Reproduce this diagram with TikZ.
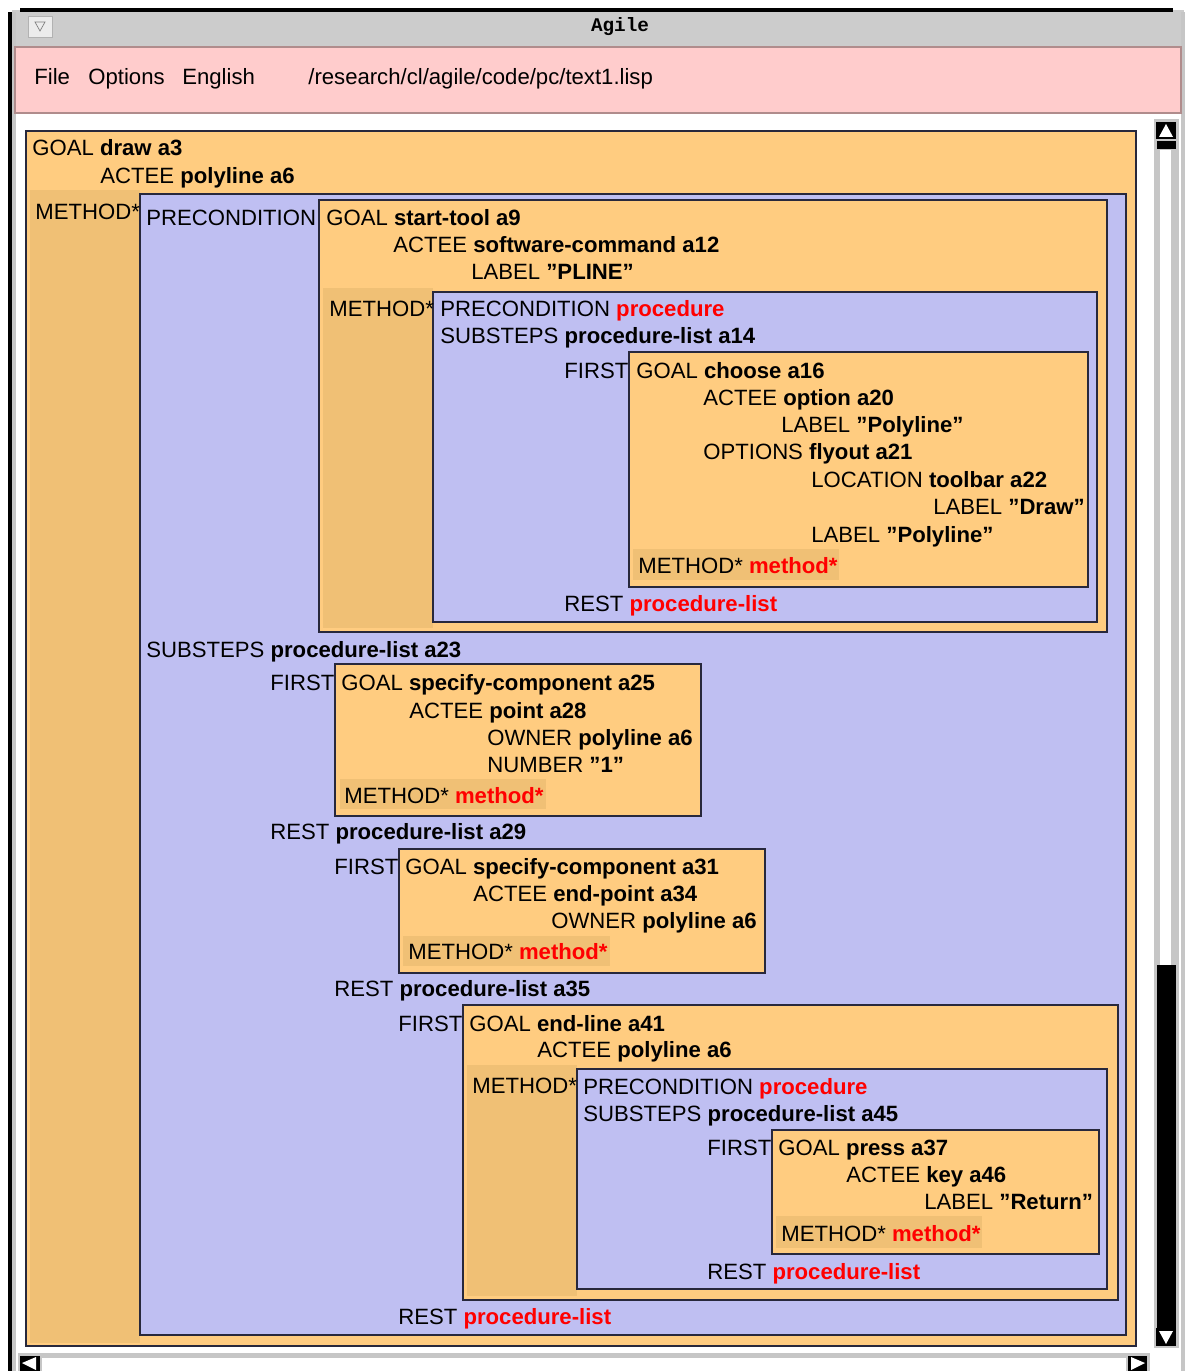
\documentclass[tikz,border=0pt]{standalone}
\usepackage{fontspec}
\setmainfont{Liberation Sans}
\setmonofont{Liberation Mono}
\usepackage{xcolor}
\usetikzlibrary{positioning}
\definecolor{colorGoal}{RGB}{255,204,128}
\definecolor{colorMethod}{RGB}{240,192,117}
\definecolor{colorProc}{RGB}{191,191,242}
\definecolor{colorMenu}{RGB}{255,204,204}
\definecolor{colorMenuLine}{RGB}{176,140,140}
\definecolor{colorTitle}{RGB}{204,204,204}
\definecolor{colorRed}{RGB}{255,0,0}
\definecolor{colorLine}{RGB}{40,40,60}
\newcommand{\kv}[2]{#1 \textbf{#2}}
\newcommand{\kr}[2]{#1 \textcolor{colorRed}{\textbf{#2}}}

\begin{document}
\begin{tikzpicture}[x=0.02cm,y=-0.02cm,
  txt/.style={anchor=base west,inner sep=0pt,font=\fontsize{12.6}{14}\selectfont},
  goalbox/.style={draw=colorLine,line width=0.9pt,fill=colorGoal},
  procbox/.style={draw=colorLine,line width=0.9pt,fill=colorProc},
  methodcol/.style={fill=colorMethod},
  scrollbox/.style={fill=black}]
  \useasboundingbox (0,0) rectangle (1186,1371);
  \fill[white] (0,0) rectangle (1186,1371);
  % window frame and title bar
  \fill[colorTitle] (12,10) rectangle (1184,47);
  \fill[black] (20,8) rectangle (1173,12);
  \fill[black] (8,12) rectangle (12,1371);
  \fill[gray!45] (12,12) rectangle (16,1371);
  \fill[gray!45] (1181,12) rectangle (1185,1371);
  \draw[gray!60,fill=gray!15] (28,16) rectangle (52,37);
  \draw[gray] (35,22) -- (45,22) -- (40,31) -- cycle;
  \node[anchor=base,inner sep=0pt,font=\ttfamily\bfseries\fontsize{11}{12}\selectfont] (title) at (620,32) {Agile};
  % menu bar
  \draw[colorMenuLine,line width=0.9pt,fill=colorMenu] (15,47) rectangle (1181,113);
  \node[txt] (mFile) at (34,85) {File};
  \node[txt] (mOptions) at (88,85) {Options};
  \node[txt] (mEnglish) at (182,85) {English};
  \node[txt] (mPath) at (308,85) {/research/cl/agile/code/pc/text1.lisp};
  % goal draw a3
  \draw[goalbox] (26,131) rectangle (1136,1346);
  \fill[methodcol] (30,190) rectangle (140,1343);
  \draw[procbox] (140,194) rectangle (1126,1335);
  \node[txt] (g0goal) at (32,156) {\kv{GOAL}{draw a3}};
  \node[txt] (g0actee) at (100,184) {\kv{ACTEE}{polyline a6}};
  \node[txt] (g0method) at (35,220) {METHOD*};
  \node[txt] (p1pre) at (146,226) {PRECONDITION};
  % goal start-tool a9
  \draw[goalbox] (319,200) rectangle (1107,632);
  \fill[methodcol] (323,288) rectangle (433,628);
  \draw[procbox] (433,292) rectangle (1097,622);
  \node[txt] (g1goal) at (326,226) {\kv{GOAL}{start-tool a9}};
  \node[txt] (g1actee) at (393,253) {\kv{ACTEE}{software-command a12}};
  \node[txt] (g1label) at (471,280) {\kv{LABEL}{"PLINE"}};
  \node[txt] (g1method) at (329,317) {METHOD*};
  \node[txt] (p2pre) at (440,317) {\kr{PRECONDITION}{procedure}};
  \node[txt] (p2sub) at (440,344) {\kv{SUBSTEPS}{procedure-list a14}};
  \node[txt] (p2first) at (564,378) {FIRST};
  % goal choose a16
  \draw[goalbox] (629,352) rectangle (1088,587);
  \fill[methodcol] (633,549) rectangle (839,580);
  \node[txt] (g2goal) at (636,378) {\kv{GOAL}{choose a16}};
  \node[txt] (g2actee) at (703,405) {\kv{ACTEE}{option a20}};
  \node[txt] (g2label) at (781,432) {\kv{LABEL}{"Polyline"}};
  \node[txt] (g2options) at (703,459) {\kv{OPTIONS}{flyout a21}};
  \node[txt] (g2loc) at (811,487) {\kv{LOCATION}{toolbar a22}};
  \node[txt] (g2labdraw) at (933,514) {\kv{LABEL}{"Draw"}};
  \node[txt] (g2labpoly) at (811,542) {\kv{LABEL}{"Polyline"}};
  \node[txt] (g2method) at (638,573) {\kr{METHOD*}{method*}};
  \node[txt] (p2rest) at (564,611) {\kr{REST}{procedure-list}};
  % substeps of draw a3
  \node[txt] (p1sub) at (146,657) {\kv{SUBSTEPS}{procedure-list a23}};
  \node[txt] (p1first) at (270,690) {FIRST};
  \draw[goalbox] (335,664) rectangle (701,816);
  \fill[methodcol] (340,779) rectangle (546,809);
  \node[txt] (g3goal) at (341,690) {\kv{GOAL}{specify-component a25}};
  \node[txt] (g3actee) at (409,718) {\kv{ACTEE}{point a28}};
  \node[txt] (g3owner) at (487,745) {\kv{OWNER}{polyline a6}};
  \node[txt] (g3number) at (487,772) {\kv{NUMBER}{"1"}};
  \node[txt] (g3method) at (344,803) {\kr{METHOD*}{method*}};
  \node[txt] (p1rest) at (270,839) {\kv{REST}{procedure-list a29}};
  \node[txt] (l29first) at (334,874) {FIRST};
  \draw[goalbox] (399,849) rectangle (765,973);
  \fill[methodcol] (403,936) rectangle (610,966);
  \node[txt] (g4goal) at (405,874) {\kv{GOAL}{specify-component a31}};
  \node[txt] (g4actee) at (473,901) {\kv{ACTEE}{end-point a34}};
  \node[txt] (g4owner) at (551,928) {\kv{OWNER}{polyline a6}};
  \node[txt] (g4method) at (408,959) {\kr{METHOD*}{method*}};
  \node[txt] (l29rest) at (334,996) {\kv{REST}{procedure-list a35}};
  \node[txt] (l35first) at (398,1031) {FIRST};
  % goal end-line a41
  \draw[goalbox] (463,1005) rectangle (1118,1300);
  \fill[methodcol] (467,1065) rectangle (577,1296);
  \draw[procbox] (577,1069) rectangle (1107,1289);
  \node[txt] (g5goal) at (469,1031) {\kv{GOAL}{end-line a41}};
  \node[txt] (g5actee) at (537,1057) {\kv{ACTEE}{polyline a6}};
  \node[txt] (g5method) at (472,1093) {METHOD*};
  \node[txt] (p3pre) at (583,1094) {\kr{PRECONDITION}{procedure}};
  \node[txt] (p3sub) at (583,1121) {\kv{SUBSTEPS}{procedure-list a45}};
  \node[txt] (p3first) at (707,1155) {FIRST};
  \draw[goalbox] (772,1130) rectangle (1099,1254);
  \fill[methodcol] (776,1216) rectangle (982,1248);
  \node[txt] (g6goal) at (778,1155) {\kv{GOAL}{press a37}};
  \node[txt] (g6actee) at (846,1182) {\kv{ACTEE}{key a46}};
  \node[txt] (g6label) at (924,1209) {\kv{LABEL}{"Return"}};
  \node[txt] (g6method) at (781,1241) {\kr{METHOD*}{method*}};
  \node[txt] (p3rest) at (707,1279) {\kr{REST}{procedure-list}};
  \node[txt] (l35rest) at (398,1324) {\kr{REST}{procedure-list}};
  % vertical scroll bar
  \fill[gray!45] (1154,119) rectangle (1179,1348);
  \fill[white] (1160,150) rectangle (1171,965);
  \fill[scrollbox] (1157,965) rectangle (1176,1328);
  \fill[scrollbox] (1156,122) rectangle (1176,139);
  \fill[white] (1166,124) -- (1159,137) -- (1173,137) -- cycle;
  \fill[scrollbox] (1157,141) rectangle (1176,149);
  \fill[scrollbox] (1156,1328) rectangle (1176,1346);
  \fill[white] (1166,1344) -- (1159,1331) -- (1173,1331) -- cycle;
  % horizontal scroll bar
  \fill[gray!45] (18,1353) rectangle (1150,1371);
  \fill[white] (42,1358) rectangle (1126,1371);
  \fill[scrollbox] (20,1356) rectangle (40,1371);
  \fill[white] (22,1363) -- (36,1357) -- (36,1370) -- cycle;
  \fill[scrollbox] (1128,1356) rectangle (1147,1371);
  \fill[white] (1145,1363) -- (1131,1357) -- (1131,1370) -- cycle;
\end{tikzpicture}
\end{document}
